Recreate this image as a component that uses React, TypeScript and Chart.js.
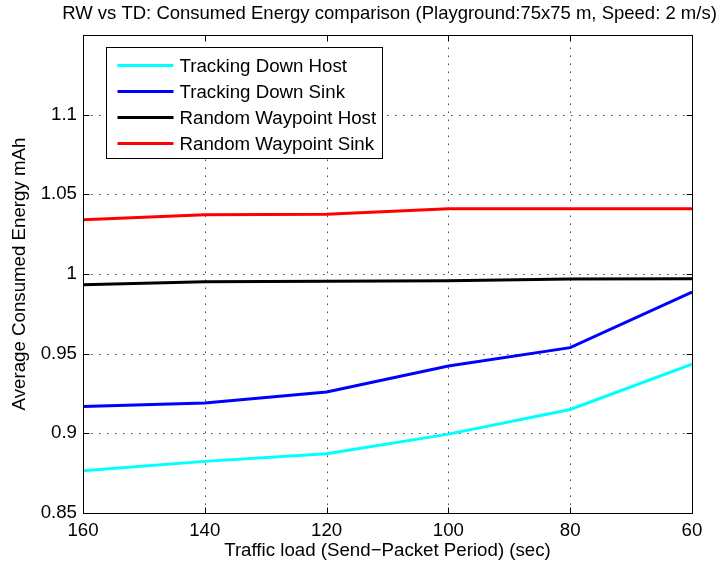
import React, { useEffect, useRef } from "react";
import { Chart, registerables } from "chart.js";

Chart.register(...registerables);

const TITLE = "RW vs TD: Consumed Energy comparison (Playground:75x75 m, Speed: 2 m/s)";
const X_TITLE = "Traffic load (Send\u2212Packet Period) (sec)";
const Y_TITLE = "Average Consumed Energy mAh";

const xValues = [160, 140, 120, 100, 80, 60];
const xTicks = [160, 140, 120, 100, 80, 60];
const yTicks = [0.85, 0.9, 0.95, 1, 1.05, 1.1];

const seriesLabels = [
  "Tracking Down Host",
  "Tracking Down Sink",
  "Random Waypoint Host",
  "Random Waypoint Sink",
];
const trackingDownHost = [0.8765, 0.8824, 0.8872, 0.8995, 0.915, 0.9434];
const trackingDownSink = [0.9169, 0.9191, 0.926, 0.9423, 0.9538, 0.9887];
const randomWaypointHost = [0.9933, 0.9952, 0.9954, 0.9957, 0.9968, 0.997];
const randomWaypointSink = [1.034, 1.0372, 1.0375, 1.0409, 1.041, 1.041];
const seriesColors = ["#00FFFF", "#0000FF", "#000000", "#FF0000"];

const FONT = "'Liberation Sans', Arial, Helvetica, sans-serif";
const AXIS_FONT_SIZE = 18.7;
const TITLE_FONT_SIZE = 18.5;

const titlePlugin = {
  id: "matlabTitle",
  afterDraw(chart: any) {
    const { ctx, chartArea } = chart;
    ctx.save();
    ctx.font = `${TITLE_FONT_SIZE}px ${FONT}`;
    ctx.fillStyle = "#000";
    ctx.textAlign = "center";
    ctx.textBaseline = "middle";
    ctx.fillText(TITLE, (chartArea.left + chartArea.right) / 2 + 2, chartArea.top - 21);
    ctx.restore();
  },
};

const framePlugin = {
  id: "matlabFrame",
  beforeDatasetsDraw(chart: any) {
    const { ctx, chartArea } = chart;
    const { left, right, top, bottom } = chartArea;
    const xs = chart.scales.x;
    const ys = chart.scales.y;
    ctx.save();
    ctx.strokeStyle = "#444";
    ctx.lineWidth = 1;
    ctx.setLineDash([1.5, 6.5]);
    xs.ticks.forEach((t: any) => {
      const px = Math.round(xs.getPixelForValue(t.value)) + 0.5;
      if (px <= left + 1 || px >= right - 1) return;
      ctx.beginPath();
      ctx.moveTo(px, bottom);
      ctx.lineTo(px, top);
      ctx.stroke();
    });
    ys.ticks.forEach((t: any) => {
      const py = Math.round(ys.getPixelForValue(t.value)) + 0.5;
      if (py <= top + 1 || py >= bottom - 1) return;
      ctx.beginPath();
      ctx.moveTo(left, py);
      ctx.lineTo(right, py);
      ctx.stroke();
    });
    ctx.restore();
  },
  afterDatasetsDraw(chart: any) {
    const { ctx, chartArea } = chart;
    const { left, right, top, bottom } = chartArea;
    const xs = chart.scales.x;
    const ys = chart.scales.y;
    const L = Math.round(left) + 0.5;
    const R = Math.round(right) + 0.5;
    const T = Math.round(top) + 0.5;
    const B = Math.round(bottom) + 0.5;
    ctx.save();
    ctx.strokeStyle = "#000";
    ctx.lineWidth = 1;
    ctx.setLineDash([]);
    ctx.strokeRect(L, T, R - L, B - T);
    const tl = 6;
    xs.ticks.forEach((t: any) => {
      const px = Math.round(xs.getPixelForValue(t.value)) + 0.5;
      ctx.beginPath();
      ctx.moveTo(px, B);
      ctx.lineTo(px, B - tl);
      ctx.moveTo(px, T);
      ctx.lineTo(px, T + tl);
      ctx.stroke();
    });
    ys.ticks.forEach((t: any) => {
      const py = Math.round(ys.getPixelForValue(t.value)) + 0.5;
      ctx.beginPath();
      ctx.moveTo(L, py);
      ctx.lineTo(L + tl, py);
      ctx.moveTo(R, py);
      ctx.lineTo(R - tl, py);
      ctx.stroke();
    });
    ctx.restore();
  },
};

const legendPlugin = {
  id: "matlabLegend",
  afterDraw(chart: any) {
    const { ctx, chartArea } = chart;
    const bx = Math.round(chartArea.left + 23) + 0.5;
    const by = Math.round(chartArea.top + 12) + 0.5;
    const bw = 276;
    const bh = 111;
    ctx.save();
    ctx.fillStyle = "#fff";
    ctx.fillRect(bx, by, bw, bh);
    ctx.strokeStyle = "#000";
    ctx.lineWidth = 1;
    ctx.strokeRect(bx, by, bw, bh);
    ctx.font = `${AXIS_FONT_SIZE}px ${FONT}`;
    ctx.textBaseline = "middle";
    ctx.textAlign = "left";
    chart.data.datasets.forEach((ds: any, i: number) => {
      const cy = by + 18 + i * 26;
      ctx.strokeStyle = ds.borderColor;
      ctx.lineWidth = 3;
      ctx.beginPath();
      ctx.moveTo(bx + 11, cy);
      ctx.lineTo(bx + 67, cy);
      ctx.stroke();
      ctx.fillStyle = "#000";
      ctx.fillText(ds.label, bx + 73, cy + 1);
    });
    ctx.restore();
  },
};

export default function App() {
  const ref = useRef<HTMLCanvasElement | null>(null);
  useEffect(() => {
    if (!ref.current) return;
    const allSeries = [trackingDownHost, trackingDownSink, randomWaypointHost, randomWaypointSink];
    const chart = new Chart(ref.current, {
      type: "line",
      data: {
        datasets: allSeries.map((vals, i) => ({
          label: seriesLabels[i],
          data: xValues.map((x, j) => ({ x, y: vals[j] })),
          borderColor: seriesColors[i],
          backgroundColor: seriesColors[i],
          borderWidth: 3,
          pointRadius: 0,
          tension: 0,
          fill: false,
        })),
      },
      options: {
        animation: false,
        responsive: false,
        devicePixelRatio: 1,
        layout: { padding: { left: 0, right: 31, top: 35, bottom: 0 } },
        plugins: {
          legend: { display: false },
          tooltip: { enabled: false },
          title: { display: false },
        },
        scales: {
          x: {
            type: "linear",
            reverse: true,
            min: 60,
            max: 160,
            afterBuildTicks: (s: any) => {
              s.ticks = xTicks.map((v) => ({ value: v }));
            },
            afterFit: (s: any) => {
              s.height = 56;
            },
            grid: { display: false, drawTicks: false },
            border: { display: false },
            ticks: {
              color: "#000",
              padding: 7,
              maxRotation: 0,
              font: { family: FONT, size: AXIS_FONT_SIZE },
              callback: (v: any) => String(v),
            },
            title: {
              display: true,
              text: X_TITLE,
              color: "#000",
              font: { family: FONT, size: AXIS_FONT_SIZE },
              padding: { top: 0, bottom: 7 },
            },
          },
          y: {
            type: "linear",
            min: 0.85,
            max: 1.15,
            afterBuildTicks: (s: any) => {
              s.ticks = yTicks.map((v) => ({ value: v }));
            },
            afterFit: (s: any) => {
              s.width = 83;
            },
            grid: { display: false, drawTicks: false },
            border: { display: false },
            ticks: {
              color: "#000",
              padding: 6,
              font: { family: FONT, size: AXIS_FONT_SIZE },
              callback: (v: any) => String(v),
            },
            title: {
              display: true,
              text: Y_TITLE,
              color: "#000",
              font: { family: FONT, size: AXIS_FONT_SIZE },
              padding: { top: 9, bottom: 0 },
            },
          },
        },
      },
      plugins: [framePlugin, legendPlugin, titlePlugin],
    } as any);
    return () => chart.destroy();
  }, []);
  return (
    <div style={{ position: "absolute", left: 0, top: 0, width: 723, height: 569, background: "#fff" }}>
      <canvas ref={ref} width={723} height={569} style={{ display: "block", width: 723, height: 569 }} />
    </div>
  );
}
